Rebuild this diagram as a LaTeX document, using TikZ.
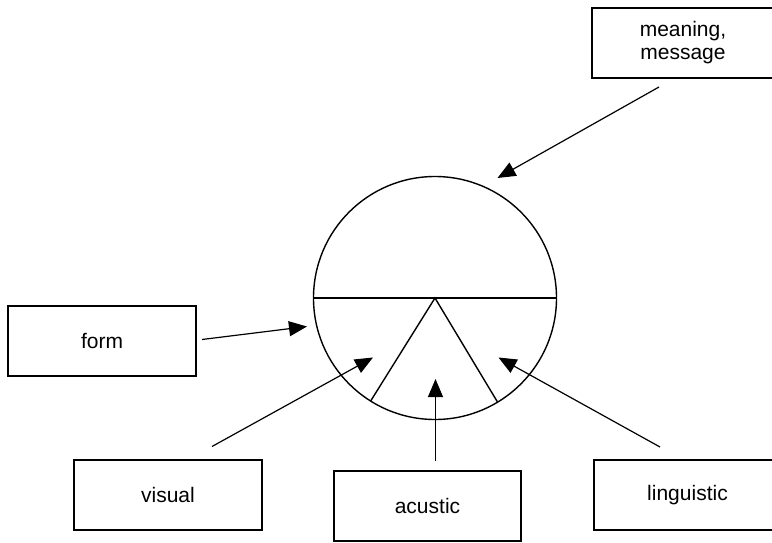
\documentclass[tikz,border=0pt]{standalone}
\usepackage{fontspec}
\setmainfont{Liberation Sans}
\usetikzlibrary{arrows.meta}
\begin{document}
\begin{tikzpicture}[x=1pt,y=-1pt,
  box/.style={draw,line width=1.4pt,minimum width=#1,minimum height=70pt,inner sep=0pt,outer sep=0pt,font=\fontsize{21}{23}\selectfont,align=center},
  box/.default=187pt,
  arr/.style={line width=1.2pt,-{Triangle[length=18pt,width=15pt]}},
  thin/.style={line width=1.4pt}]
\clip (0,0) rectangle (772,543);
\fill[white] (0,0) rectangle (772,543);
% circle
\node[circle,draw,thin,minimum size=243pt,inner sep=0pt,outer sep=0pt] (circ) at (435,298) {};
\draw[thin] (circ.west) -- (circ.east);
\draw[thin] (circ.238.8) -- (circ.center) -- (circ.301.3);
% boxes
\node[box=182pt] (meaning) at (683,43) {meaning,\\message};
\node[box=188pt] (form) at (102,341) {form};
\node[box=188pt] (visual) at (168,495) {visual};
\node[box=187pt] (acustic) at (427.5,506) {acustic};
\node[box=187pt] (linguistic) at (687.5,495) {linguistic};
% arrow ends
\coordinate (m0) at (659,87);
\coordinate (m1) at (497.5,178);
\coordinate (f0) at (202,339.5);
\coordinate (f1) at (307,326.5);
\coordinate (v0) at (212,446.5);
\coordinate (v1) at (373,357.5);
\coordinate (a0) at (435.5,461);
\coordinate (a1) at (435.5,379);
\coordinate (l0) at (660,447);
\coordinate (l1) at (498.5,357.5);
\draw[arr] (m0) -- (m1);
\draw[arr] (f0) -- (f1);
\draw[arr] (v0) -- (v1);
\draw[arr] (a0) -- (a1);
\draw[arr] (l0) -- (l1);
\end{tikzpicture}
\end{document}
